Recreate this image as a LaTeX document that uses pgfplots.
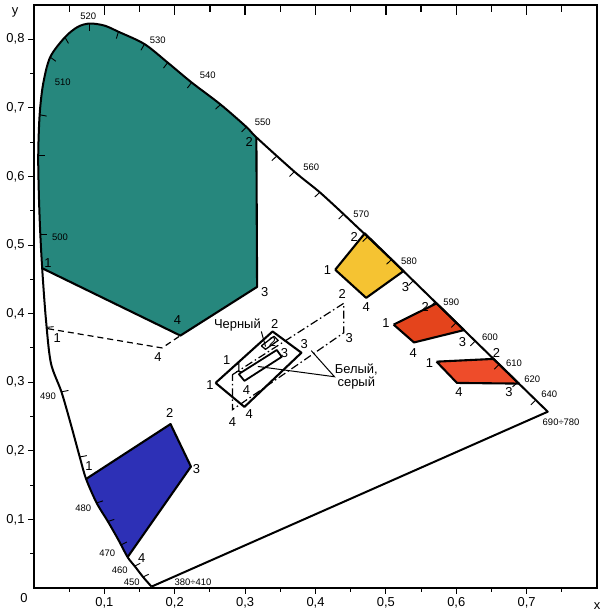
\documentclass[border=0pt]{standalone}
\usepackage{pgfplots}
\pgfplotsset{compat=1.18}
\usepackage{fontspec}
\setmainfont{Liberation Sans}
\definecolor{cgreen}{RGB}{38,135,125}
\definecolor{cblue}{RGB}{45,48,182}
\definecolor{cyellow}{RGB}{245,195,50}
\definecolor{cred}{RGB}{228,68,28}
\definecolor{cred2}{RGB}{238,76,42}
\tikzset{wl/.style={font=\fontsize{9.5}{11}\selectfont},
 pl/.style={font=\fontsize{13}{15}\selectfont}}
\begin{document}
\begin{tikzpicture}
\begin{axis}[name=main,
 scale only axis, width=563bp, height=583bp,
 xmin=0,xmax=0.8,ymin=0,ymax=0.85,
 clip=false, unbounded coords=jump,
 xtick={0.1,0.2,0.3,0.4,0.5,0.6,0.7}, ytick={0.1,0.2,0.3,0.4,0.5,0.6,0.7,0.8},
 minor xtick={0.05,0.15,0.25,0.35,0.45,0.55,0.65,0.75},
 minor ytick={0.05,0.15,0.25,0.35,0.45,0.55,0.65,0.75},
 xtick pos=bottom, ytick pos=left, tick align=outside,
 major tick length=6bp, minor tick length=4bp,
 every tick/.style={black, line width=1bp},
 axis line style={line width=1.8bp},
 ticklabel style={font=\fontsize{13}{15}\selectfont},
 /pgf/number format/use comma, /pgf/number format/fixed,
 /pgf/number format/fixed zerofill, /pgf/number format/precision=1,
 /pgf/number format/assume math mode=true,
]
% green region
\addplot[fill=cgreen, draw=none] coordinates {
(0.012,0.466)(0.009,0.515)(0.007,0.570)(0.006,0.630)(0.008,0.690)(0.013,0.735)(0.023,0.774)(0.044,0.803)(0.062,0.818)(0.079,0.823)(0.100,0.820)(0.120,0.811)(0.157,0.793)(0.190,0.766)(0.224,0.737)(0.265,0.705)(0.302,0.672)(0.316,0.657)(0.317,0.439)(0.208,0.368)(0.012,0.466)};
\addplot[black, line width=2.1bp, line join=round] coordinates {
(0.316,0.657)(0.317,0.439)(0.208,0.368)(0.012,0.466)};
% blue region
\addplot[fill=cblue, draw=none] coordinates {
(0.074,0.159)(0.194,0.239)(0.223,0.177)(0.133,0.045)(0.120,0.070)(0.105,0.097)(0.089,0.124)(0.074,0.159)};
\addplot[black, line width=2.1bp, line join=round] coordinates {
(0.074,0.159)(0.194,0.239)(0.223,0.177)(0.133,0.045)};
% yellow region
\addplot[fill=cyellow, draw=black, line width=2.1bp, line join=round] coordinates {
(0.428,0.464)(0.470,0.517)(0.508,0.479)(0.525,0.462)(0.472,0.423)(0.428,0.464)};
% red region 1
\addplot[fill=cred, draw=black, line width=2.1bp, line join=round] coordinates {
(0.511,0.384)(0.572,0.415)(0.600,0.387)(0.611,0.376)(0.540,0.358)(0.511,0.384)};
% red region 2
\addplot[fill=cred2, draw=black, line width=2.1bp, line join=round] coordinates {
(0.572,0.330)(0.653,0.334)(0.661,0.326)(0.687,0.300)(0.689,0.298)(0.601,0.299)(0.572,0.330)};
% spectral locus: curved part
\addplot[black, line width=2bp, smooth, tension=0.5] coordinates {
(0.167,0.002)(0.155,0.016)(0.143,0.032)(0.133,0.045)(0.120,0.070)(0.105,0.097)(0.089,0.124)(0.074,0.159)(0.065,0.191)(0.052,0.240)(0.039,0.286)(0.024,0.328)(0.017,0.391)(0.012,0.460)(0.009,0.515)(0.007,0.570)(0.006,0.630)(0.008,0.690)(0.013,0.735)(0.023,0.774)(0.044,0.803)(0.062,0.818)(0.079,0.823)(0.100,0.820)(0.120,0.811)(0.157,0.793)(0.190,0.766)(0.224,0.737)(0.265,0.705)(0.302,0.672)(0.316,0.657)(0.370,0.607)(0.406,0.577)(0.440,0.545)};
% spectral locus: straight part and purple line
\addplot[black, line width=2bp, line join=round] coordinates {
(0.440,0.545)(0.508,0.479)(0.570,0.417)(0.627,0.360)(0.661,0.326)(0.687,0.300)(0.713,0.274)(0.730,0.257)(0.167,0.002)};
% wavelength ticks
\addplot[black, line width=0.9bp, quiver={u=\thisrow{u}, v=\thisrow{v}}] table {
x y u v
0.155 0.016 0.008 0.004
0.143 0.032 0.008 0.004
0.124 0.063 0.008 0.004
0.105 0.097 0.009 0.003
0.089 0.124 0.009 0.003
0.065 0.191 0.010 0.002
0.039 0.286 0.010 0.002
0.018 0.380 0.010 0.001
0.009 0.515 0.010 0.000
0.006 0.630 0.010 0.000
0.008 0.690 0.010 -0.002
0.023 0.774 0.008 -0.006
0.044 0.803 0.005 -0.009
0.079 0.823 0.000 -0.011
0.120 0.811 -0.003 -0.010
0.157 0.793 -0.005 -0.009
0.190 0.766 -0.006 -0.008
0.224 0.737 -0.006 -0.008
0.265 0.705 -0.007 -0.007
0.302 0.672 -0.007 -0.007
0.345 0.630 -0.007 -0.007
0.370 0.607 -0.007 -0.007
0.406 0.577 -0.007 -0.007
0.440 0.545 -0.007 -0.007
0.474 0.512 -0.007 -0.007
0.508 0.479 -0.007 -0.007
0.539 0.448 -0.007 -0.007
0.570 0.417 -0.007 -0.007
0.600 0.387 -0.007 -0.007
0.627 0.360 -0.007 -0.007
0.661 0.326 -0.007 -0.007
0.687 0.300 -0.007 -0.007
0.713 0.274 -0.007 -0.007
};
% inward ticks along the top edge
\addplot[black, line width=1.3bp] coordinates {
(0.05,0.849)(0.05,0.840)(nan,nan)
(0.10,0.849)(0.10,0.835)(nan,nan)
(0.15,0.849)(0.15,0.840)(nan,nan)
(0.20,0.849)(0.20,0.835)(nan,nan)
(0.25,0.849)(0.25,0.840)(nan,nan)
(0.30,0.849)(0.30,0.835)(nan,nan)
(0.35,0.849)(0.35,0.840)(nan,nan)
(0.40,0.849)(0.40,0.835)(nan,nan)
(0.45,0.849)(0.45,0.840)(nan,nan)
(0.50,0.849)(0.50,0.835)(nan,nan)
(0.55,0.849)(0.55,0.840)(nan,nan)
(0.60,0.849)(0.60,0.835)(nan,nan)
(0.65,0.849)(0.65,0.840)(nan,nan)
(0.70,0.849)(0.70,0.835)(nan,nan)
(0.75,0.849)(0.75,0.840)};
% dashed extension of the green region
\addplot[black, line width=1.2bp, dash pattern=on 6bp off 4bp] coordinates {(0.020,0.378)(0.182,0.350)(0.208,0.368)};
% dash-dot region
\addplot[black, line width=1.2bp, dash pattern=on 8bp off 3bp on 1.5bp off 3bp] coordinates {
(0.282,0.311)(0.440,0.415)(0.440,0.372)(0.282,0.260)(0.282,0.311)};
% solid boxes
\addplot[black, line width=2.1bp, line join=round] coordinates {
(0.258,0.299)(0.339,0.374)(0.380,0.343)(0.299,0.264)(0.258,0.299)};
\addplot[black, line width=1.8bp, line join=round] coordinates {
(0.291,0.312)(0.345,0.347)(0.352,0.337)(0.299,0.302)(0.291,0.312)};
\addplot[black, line width=1.3bp, line join=round] coordinates {
(0.323,0.353)(0.341,0.367)(0.347,0.361)(0.329,0.348)(0.323,0.353)};
% leader lines
\addplot[black, line width=1bp] coordinates {(0.323,0.374)(0.329,0.352)};
\addplot[black, line width=1bp] coordinates {(0.318,0.323)(0.427,0.308)(0.394,0.346)};
% wavelength labels
\node[wl] at (axis cs:0.077,0.834) {520};
\node[wl] at (axis cs:0.176,0.799) {530};
\node[wl] at (axis cs:0.247,0.747) {540};
\node[wl] at (axis cs:0.325,0.679) {550};
\node[wl] at (axis cs:0.041,0.737) {510};
\node[wl] at (axis cs:0.037,0.512) {500};
\node[wl] at (axis cs:0.394,0.613) {560};
\node[wl] at (axis cs:0.465,0.545) {570};
\node[wl] at (axis cs:0.533,0.476) {580};
\node[wl] at (axis cs:0.593,0.416) {590};
\node[wl] at (axis cs:0.648,0.365) {600};
\node[wl] at (axis cs:0.682,0.328) {610};
\node[wl] at (axis cs:0.708,0.304) {620};
\node[wl] at (axis cs:0.732,0.282) {640};
\node[wl] at (axis cs:0.749,0.242) {690÷780};
\node[wl] at (axis cs:0.020,0.279) {490};
\node[wl] at (axis cs:0.070,0.117) {480};
\node[wl] at (axis cs:0.104,0.050) {470};
\node[wl] at (axis cs:0.122,0.026) {460};
\node[wl] at (axis cs:0.139,0.009) {450};
\node[wl] at (axis cs:0.226,0.009) {380÷410};
% point labels
\node[pl] at (axis cs:0.020,0.474) {1};
\node[pl] at (axis cs:0.306,0.650) {2};
\node[pl] at (axis cs:0.328,0.432) {3};
\node[pl] at (axis cs:0.204,0.390) {4};
\node[pl] at (axis cs:0.033,0.365) {1};
\node[pl] at (axis cs:0.176,0.336) {4};
\node[pl] at (axis cs:0.078,0.178) {1};
\node[pl] at (axis cs:0.193,0.255) {2};
\node[pl] at (axis cs:0.231,0.174) {3};
\node[pl] at (axis cs:0.153,0.044) {4};
\node[pl] at (axis cs:0.417,0.464) {1};
\node[pl] at (axis cs:0.455,0.512) {2};
\node[pl] at (axis cs:0.528,0.439) {3};
\node[pl] at (axis cs:0.472,0.410) {4};
\node[pl] at (axis cs:0.500,0.387) {1};
\node[pl] at (axis cs:0.556,0.410) {2};
\node[pl] at (axis cs:0.609,0.358) {3};
\node[pl] at (axis cs:0.539,0.343) {4};
\node[pl] at (axis cs:0.562,0.328) {1};
\node[pl] at (axis cs:0.657,0.343) {2};
\node[pl] at (axis cs:0.675,0.285) {3};
\node[pl] at (axis cs:0.604,0.285) {4};
\node[pl] at (axis cs:0.250,0.296) {1};
\node[pl] at (axis cs:0.342,0.385) {2};
\node[pl] at (axis cs:0.384,0.355) {3};
\node[pl] at (axis cs:0.306,0.254) {4};
\node[pl] at (axis cs:0.291,0.321) {1};
\node[pl] at (axis cs:0.339,0.358) {2};
\node[pl] at (axis cs:0.356,0.343) {3};
\node[pl] at (axis cs:0.302,0.289) {4};
\node[pl] at (axis cs:0.274,0.333) {1};
\node[pl] at (axis cs:0.438,0.428) {2};
\node[pl] at (axis cs:0.448,0.365) {3};
\node[pl] at (axis cs:0.282,0.242) {4};
% annotations
\node[pl] at (axis cs:0.289,0.384) {Черный};
\node[pl] at (axis cs:0.458,0.318) {Белый,};
\node[pl] at (axis cs:0.458,0.299) {серый};
% axis letters
\node[font=\fontsize{13}{15}\selectfont] at (rel axis cs:1,0) [yshift=-18bp] {x};
\node[font=\fontsize{13}{15}\selectfont] at (rel axis cs:0,1) [xshift=-19bp,yshift=-7bp] {y};
\node[font=\fontsize{13}{15}\selectfont] at (rel axis cs:0,0) [xshift=-10bp,yshift=-10bp] {0};
\end{axis}
\pgfresetboundingbox
\path ([shift={(-34bp,-26bp)}]main.south west) rectangle ([shift={(8bp,5bp)}]main.north east);
\end{tikzpicture}
\end{document}
